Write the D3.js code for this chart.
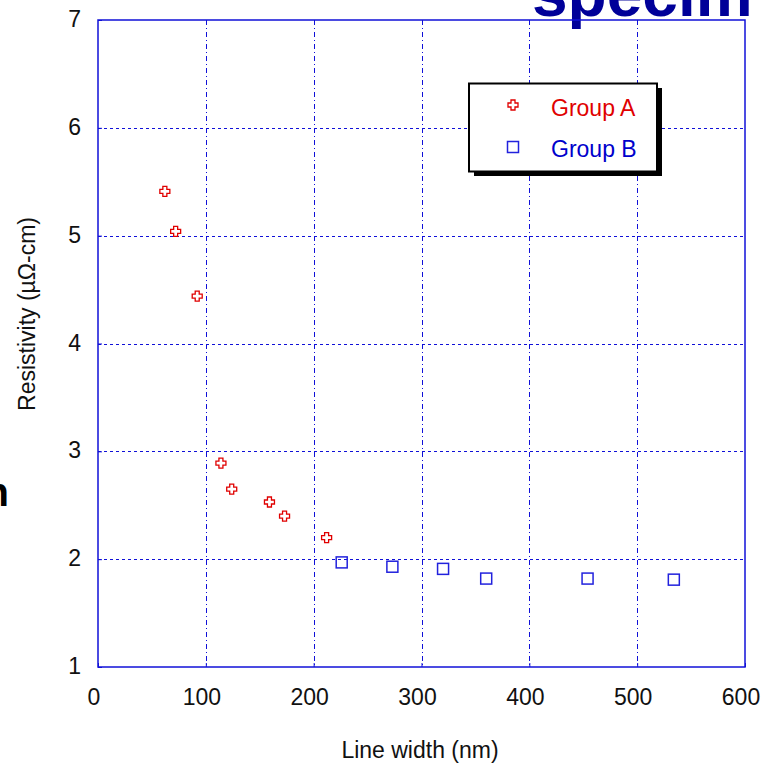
<!DOCTYPE html>
<html>
<head>
<meta charset="utf-8">
<script src="https://cdn.jsdelivr.net/npm/d3@7"></script>
<style>
  body{margin:0;background:#fff;}
  svg{display:block;font-family:"Liberation Sans",Arial,sans-serif;}
</style>
</head>
<body>
<div id="container"></div>
<script>
const canvasWidth = 762;
const canvasHeight = 765;

// plot box edges
let plotLeft = 98;
let plotRight = 745;
let plotTop = 20;
let plotBottom = 667;

// data
let groupAWidth = [62, 72, 92, 114, 124, 159, 173, 212];
let groupARes = [5.41, 5.04, 4.44, 2.89, 2.65, 2.53, 2.40, 2.20];

let groupBWidth = [226, 273, 320, 360, 454, 534];
let groupBRes = [1.97, 1.93, 1.91, 1.82, 1.82, 1.81];

let xTicks = [0, 100, 200, 300, 400, 500, 600];
let yTicks = [1, 2, 3, 4, 5, 6, 7];

let seriesNames = ['Group A', 'Group B'];

let red = '#e00000';
let blue = '#0000cc';
let frameBlue = '#1010d8';

let svg = d3.select('#container')
  .append('svg')
  .attr('width', canvasWidth)
  .attr('height', canvasHeight);

let xScale = d3.scaleLinear().domain([0, 600]).range([plotLeft, plotRight]);
let yScale = d3.scaleLinear().domain([1, 7]).range([plotBottom, plotTop]);

// cut off slide text behind the chart
svg.append('text')
  .attr('x', 532)
  .attr('y', 16)
  .attr('font-size', 64)
  .attr('font-weight', 'bold')
  .attr('fill', '#000099')
  .text('specim');

svg.append('text')
  .attr('x', 9)
  .attr('y', 506)
  .attr('text-anchor', 'end')
  .attr('font-size', 40)
  .attr('font-weight', 'bold')
  .attr('fill', '#000')
  .text('n');

// grid
let grid = svg.append('g').attr('class', 'grid');

grid.selectAll('.vgrid').data(xTicks.slice(1, -1)).enter()
  .append('line')
  .attr('class', 'vgrid')
  .attr('x1', d => Math.round(xScale(d)) + 0.5)
  .attr('x2', d => Math.round(xScale(d)) + 0.5)
  .attr('y1', plotTop)
  .attr('y2', plotBottom)
  .style('stroke', frameBlue)
  .style('stroke-width', 1)
  .style('stroke-dasharray', '5,3,1,3');

grid.selectAll('.hgrid').data(yTicks.slice(1, -1)).enter()
  .append('line')
  .attr('class', 'hgrid')
  .attr('x1', plotLeft)
  .attr('x2', plotRight)
  .attr('y1', d => Math.round(yScale(d)) + 0.5)
  .attr('y2', d => Math.round(yScale(d)) + 0.5)
  .style('stroke', frameBlue)
  .style('stroke-width', 1)
  .style('stroke-dasharray', '3,3');

// frame
svg.append('rect')
  .attr('x', plotLeft)
  .attr('y', plotTop)
  .attr('width', plotRight - plotLeft)
  .attr('height', plotBottom - plotTop)
  .style('fill', 'none')
  .style('stroke', frameBlue)
  .style('stroke-width', 1.5);

// axes, ticks pointing inward
let xAxis = d3.axisTop(xScale).tickValues(xTicks).tickSize(4).tickFormat('');
svg.append('g')
  .attr('transform', 'translate(0,' + plotBottom + ')')
  .call(xAxis)
  .call(g => g.select('.domain').remove())
  .call(g => g.selectAll('line').style('stroke', frameBlue));

let yAxis = d3.axisRight(yScale).tickValues(yTicks).tickSize(4).tickFormat('');
svg.append('g')
  .attr('transform', 'translate(' + plotLeft + ',0)')
  .call(yAxis)
  .call(g => g.select('.domain').remove())
  .call(g => g.selectAll('line').style('stroke', frameBlue));

// tick labels
svg.selectAll('.xlabel').data(xTicks).enter()
  .append('text')
  .attr('class', 'xlabel')
  .attr('x', d => xScale(d) - 4)
  .attr('y', 705)
  .attr('text-anchor', 'middle')
  .attr('font-size', 23)
  .attr('fill', '#111')
  .text(d => d);

svg.selectAll('.ylabel').data(yTicks).enter()
  .append('text')
  .attr('class', 'ylabel')
  .attr('x', 81)
  .attr('y', d => yScale(d) + 7)
  .attr('text-anchor', 'end')
  .attr('font-size', 23)
  .attr('fill', '#111')
  .text(d => d);

// axis titles
svg.append('text')
  .attr('x', 420)
  .attr('y', 758)
  .attr('text-anchor', 'middle')
  .attr('font-size', 23)
  .attr('fill', '#111')
  .text('Line width (nm)');

svg.append('text')
  .attr('transform', 'translate(35,' + 314 + ') rotate(-90)')
  .attr('text-anchor', 'middle')
  .attr('font-size', 23)
  .attr('fill', '#111')
  .text('Resistivity (\u00b5\u03a9-cm)');

// markers
let crossPath = 'M-2,-5H2V-2H5V2H2V5H-2V2H-5V-2H-2Z';

function drawCross(sel){
  sel.append('path')
    .attr('d', crossPath)
    .style('fill', '#fff')
    .style('stroke', red)
    .style('stroke-width', 1.3);
}

function drawSquare(sel){
  sel.append('rect')
    .attr('x', -5.5)
    .attr('y', -5.5)
    .attr('width', 11)
    .attr('height', 11)
    .style('fill', 'none')
    .style('stroke', '#2222dd')
    .style('stroke-width', 1.5);
}

svg.selectAll('.ptA').data(groupAWidth).enter()
  .append('g')
  .attr('class', 'ptA')
  .attr('transform', (d, i) => 'translate(' + xScale(d) + ',' + yScale(groupARes[i]) + ')')
  .call(drawCross);

svg.selectAll('.ptB').data(groupBWidth).enter()
  .append('g')
  .attr('class', 'ptB')
  .attr('transform', (d, i) => 'translate(' + xScale(d) + ',' + yScale(groupBRes[i]) + ')')
  .call(drawSquare);

// legend with drop shadow
let legend = svg.append('g').attr('class', 'legend');

legend.append('rect')
  .attr('x', 474)
  .attr('y', 88)
  .attr('width', 188)
  .attr('height', 88)
  .style('fill', '#000');

legend.append('rect')
  .attr('x', 469)
  .attr('y', 83.5)
  .attr('width', 188)
  .attr('height', 88)
  .style('fill', '#fff')
  .style('stroke', '#000')
  .style('stroke-width', 2);

let legendItems = legend.selectAll('.item').data(seriesNames).enter()
  .append('g')
  .attr('class', 'item')
  .attr('transform', (d, i) => 'translate(0,' + (i * 41) + ')');

legendItems.filter((d, i) => i == 0).append('g')
  .attr('transform', 'translate(513,105)')
  .call(drawCross);

legendItems.filter((d, i) => i == 1).append('g')
  .attr('transform', 'translate(513,106)')
  .call(drawSquare);

legendItems.append('text')
  .attr('x', 551)
  .attr('y', 116)
  .attr('font-size', 23)
  .attr('fill', (d, i) => i == 0 ? red : blue)
  .text(d => d);
</script>
</body>
</html>
